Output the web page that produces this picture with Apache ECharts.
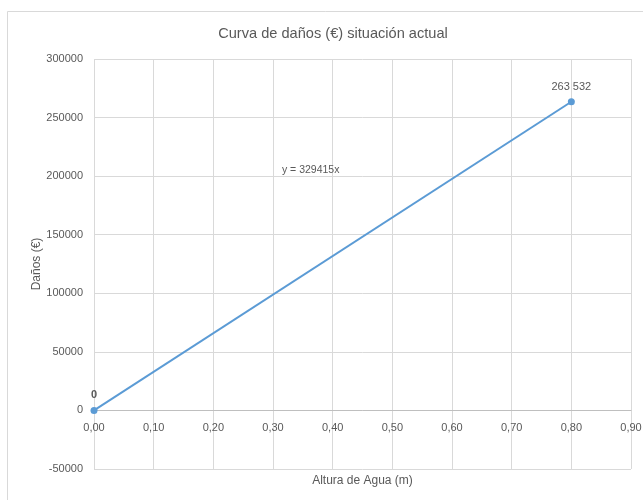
<!DOCTYPE html>
<html>
<head>
<meta charset="utf-8">
<style>
  html, body { margin: 0; padding: 0; background: #fff; }
  #chart { width: 643px; height: 500px; }
</style>
<script src="https://cdn.jsdelivr.net/npm/echarts@6/dist/echarts.min.js"></script>
</head>
<body>
<div id="chart"></div>
<script>
// Damage curve: water height (m) against damage (€)
const alturas = [0.0, 0.8];
const danos = [0, 263532];
const ecuacion = 'y = 329415x';
const titulo = 'Curva de daños (€) situación actual';
const nombreX = 'Altura de Agua (m)';
const nombreY = 'Daños (€)';

const FONT = '"Liberation Sans", Arial, sans-serif';
const GREY = '#595959';

const Y_MIN = -50000, Y_MAX = 300000;
const fmtMiles = v => String(v).replace(/\B(?=(\d{3})+(?!\d))/g, ' ');

const chart = echarts.init(document.getElementById('chart'));
chart.setOption({
  animation: false,
  backgroundColor: '#fff',
  textStyle: { fontFamily: FONT },
  title: {
    text: titulo,
    left: 328,
    textAlign: 'center',
    top: 21,
    textStyle: { fontFamily: FONT, fontSize: 14.6, fontWeight: 'normal', color: GREY }
  },
  grid: { left: 94, right: 12, top: 59, bottom: 31, containLabel: false, outerBoundsMode: 'none' },
  xAxis: [{
    // bottom axis: carries the axis title and the vertical grid
    type: 'value',
    min: 0, max: 0.9, interval: 0.1,
    name: nombreX,
    nameLocation: 'middle',
    nameGap: 6,
    nameMoveOverlap: false,
    nameTextStyle: { fontFamily: FONT, fontSize: 12, color: GREY },
    axisLine: { onZero: false, show: false },
    axisTick: { show: false },
    axisLabel: { show: false },
    splitLine: { show: true, lineStyle: { color: '#d9d9d9', width: 1 } }
  }],
  yAxis: {
    type: 'value',
    min: Y_MIN, max: Y_MAX, interval: 50000,
    name: nombreY,
    nameLocation: 'middle',
    nameGap: 51,
    nameRotate: 90,
    nameMoveOverlap: false,
    nameTextStyle: { fontFamily: FONT, fontSize: 12, color: GREY },
    axisLine: { show: false },
    axisTick: { show: false },
    axisLabel: { fontFamily: FONT, fontSize: 11, color: GREY, margin: 11, formatter: v => String(v) },
    splitLine: { show: true, lineStyle: { color: '#d9d9d9', width: 1 } }
  },
  series: [{
    type: 'line',
    data: alturas.map((x, i) => ({
      value: [x, danos[i]],
      label: danos[i] === 0 ? { fontWeight: 'bold' } : undefined
    })),
    symbol: 'circle',
    symbolSize: 7,
    showAllSymbol: true,
    z: 5,
    lineStyle: { color: '#5b9bd5', width: 2 },
    itemStyle: { color: '#5b9bd5' },
    label: {
      show: true,
      position: 'top',
      distance: 6,
      fontFamily: FONT,
      fontSize: 11,
      color: GREY,
      formatter: p => fmtMiles(p.value[1])
    }
  }]
});

// Horizontal axis crossing at zero damage, with its tick labels just below it
const plotBottom = chart.convertToPixel({ gridIndex: 0 }, [0, Y_MIN])[1];
const zeroY = chart.convertToPixel({ gridIndex: 0 }, [0, 0])[1];
chart.setOption({
  xAxis: [{}, {
    type: 'value',
    gridIndex: 0,
    position: 'bottom',
    offset: -(plotBottom - zeroY),
    min: 0, max: 0.9, interval: 0.1,
    axisLine: { show: true, onZero: false, lineStyle: { color: '#bfbfbf', width: 1 } },
    axisTick: { show: false },
    splitLine: { show: false },
    axisLabel: {
      fontFamily: FONT, fontSize: 11, color: GREY, margin: 12,
      formatter: v => v.toFixed(2).replace('.', ',')
    }
  }]
});

// Trendline equation text placed in data coordinates
const eqPos = chart.convertToPixel({ gridIndex: 0 }, [0.315, 205000]);
chart.setOption({
  graphic: [
    {
      type: 'rect',
      silent: true,
      shape: { x: 7.5, y: 11.5, width: 700, height: 600 },
      style: { fill: null, stroke: '#d9d9d9', lineWidth: 1 }
    },
    {
      type: 'text',
      x: eqPos[0], y: eqPos[1],
      style: {
        text: ecuacion,
        fontFamily: FONT, fontSize: 10.5, fill: GREY,
        textAlign: 'left', textVerticalAlign: 'middle'
      }
    }
  ]
});
</script>
</body>
</html>
